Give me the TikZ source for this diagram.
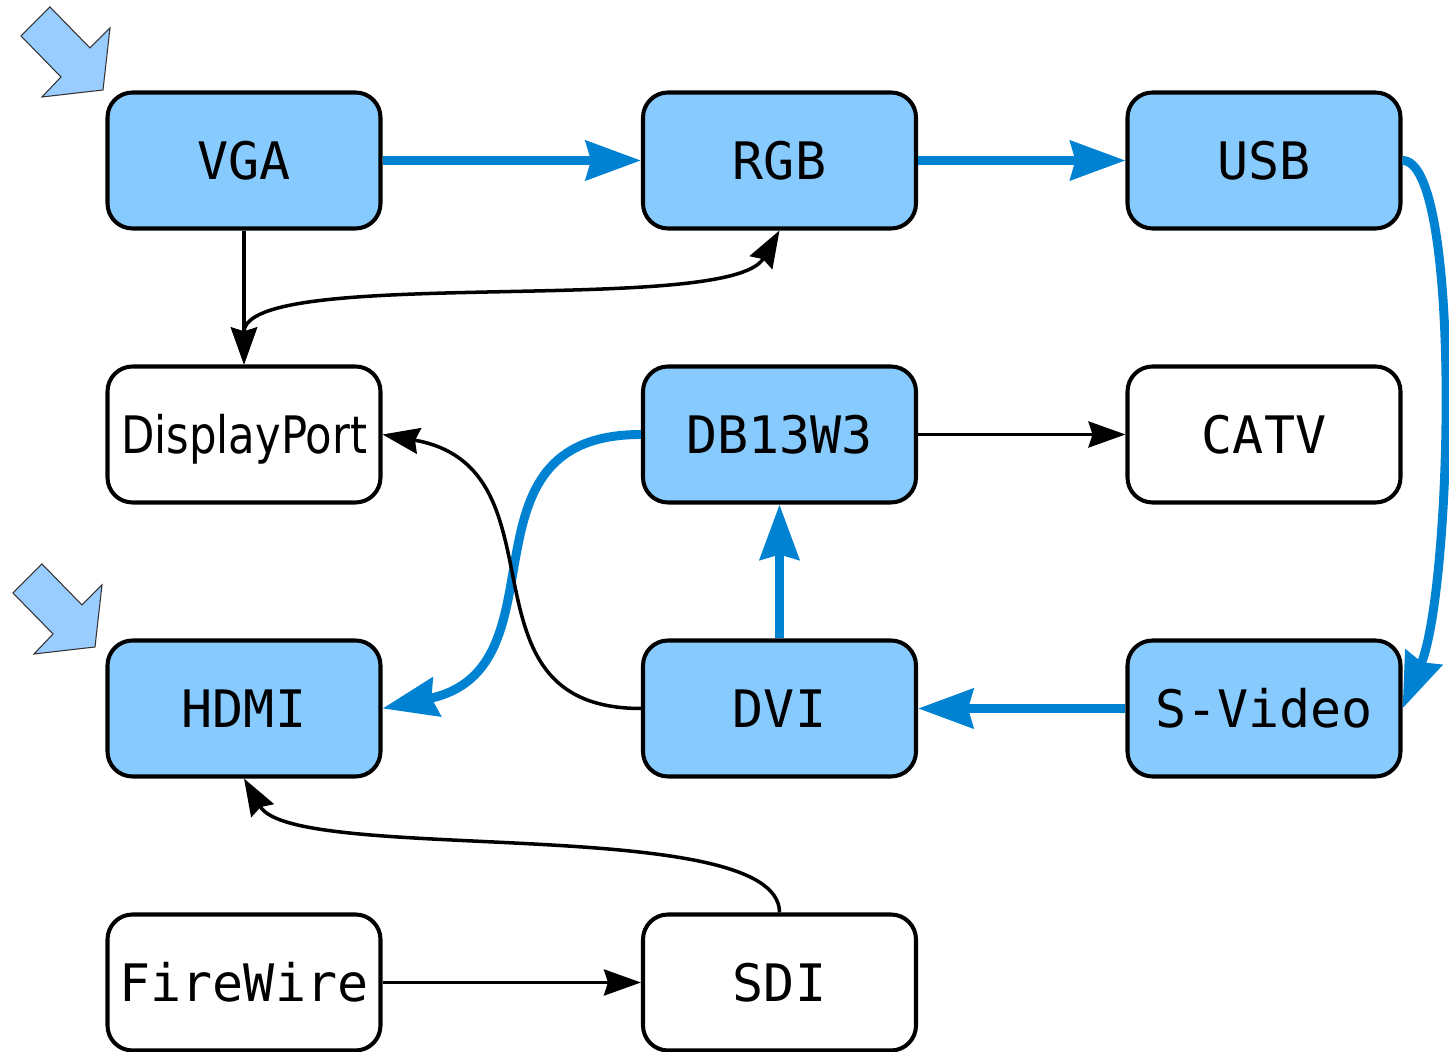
\documentclass[tikz,border=0pt]{standalone}
\usepackage{fontspec}
\setmonofont{DejaVu Sans Mono}
\newfontfamily\narrowfont[FakeStretch=0.84]{DejaVu Sans}
\usetikzlibrary{arrows.meta}
\definecolor{boxblue}{RGB}{135,202,253}
\definecolor{linkblue}{RGB}{0,130,210}
\definecolor{pointerblue}{RGB}{153,204,255}
\tikzset{
  port/.style={draw=black,line width=1.15pt,rounded corners=0.25cm,minimum width=2.73cm,minimum height=1.36cm,inner sep=0pt,text height=10.7pt,text depth=0pt,font=\ttfamily\fontsize{14.7}{17}\selectfont},
  hotport/.style={port,fill=boxblue},
  coldport/.style={port,fill=white},
  bluelink/.style={draw=linkblue,line width=2.55pt,-{Stealth[length=0.55cm,width=0.39cm,inset=0.05cm]}},
  blacklink/.style={draw=black,line width=1pt,-{Stealth[length=0.37cm,width=0.26cm,inset=0.04cm]}},
}
\begin{document}
\begin{tikzpicture}

\newcommand{\mypointer}[2]{% x depart, y depart
\draw[black!80,line width=0.3pt,fill=pointerblue] (#1,#2) -- (#1+0.40,#2-0.41) -- (#1+0.60,#2-0.21) -- (#1+0.53,#2-0.83) -- (#1-0.08,#2-0.90) -- (#1+0.11,#2-0.70) -- (#1-0.29,#2-0.29) -- cycle;
}

\useasboundingbox (0,0) rectangle (14.49,-10.52);

%start pointers
\mypointer{0.50}{-0.07}
\mypointer{0.42}{-5.64}

%top row
\node[hotport] (vga) at (2.44,-1.605) {VGA};
\node[hotport] (rgb) at (7.795,-1.605) {RGB};
\node[hotport] (usb) at (12.64,-1.605) {USB};
%second row
\node[coldport] (displayport) at (2.44,-4.345) {\narrowfont DisplayPort};
\node[hotport] (db13w3) at (7.795,-4.345) {DB13W3};
\node[coldport] (catv) at (12.64,-4.345) {CATV};
%third row
\node[hotport] (hdmi) at (2.44,-7.085) {HDMI};
\node[hotport] (dvi) at (7.795,-7.085) {DVI};
\node[hotport] (svideo) at (12.64,-7.085) {S-Video};
%bottom row
\node[coldport] (firewire) at (2.44,-9.825) {FireWire};
\node[coldport] (sdi) at (7.795,-9.825) {SDI};

%blue route
\draw[bluelink] (vga) -- (rgb);
\draw[bluelink] (rgb) -- (usb);
\draw[bluelink] (usb.east) .. controls +(0.6,0) and +(0.5,1.2) .. (svideo.east);
\draw[bluelink] (svideo) -- (dvi);
\draw[bluelink] (dvi) -- (db13w3);
\draw[bluelink] (db13w3.west) to[out=180,in=12,looseness=1.3] (hdmi.east);

%other links
\draw[blacklink] (vga) -- (displayport);
\draw[blacklink,{Stealth[length=0.37cm,width=0.26cm,inset=0.04cm]}-{Stealth[length=0.37cm,width=0.26cm,inset=0.04cm]}] (displayport.north) .. controls +(90:1.0) and +(240:1.0) .. (rgb.south);
\draw[blacklink] (dvi.west) to[out=180,in=-10,looseness=1.3] (displayport.east);
\draw[blacklink] (db13w3) -- (catv);
\draw[blacklink] (sdi.north) .. controls +(90:1.0) and +(300:1.0) .. (hdmi.south);
\draw[blacklink] (firewire) -- (sdi);

\end{tikzpicture}
\end{document}
